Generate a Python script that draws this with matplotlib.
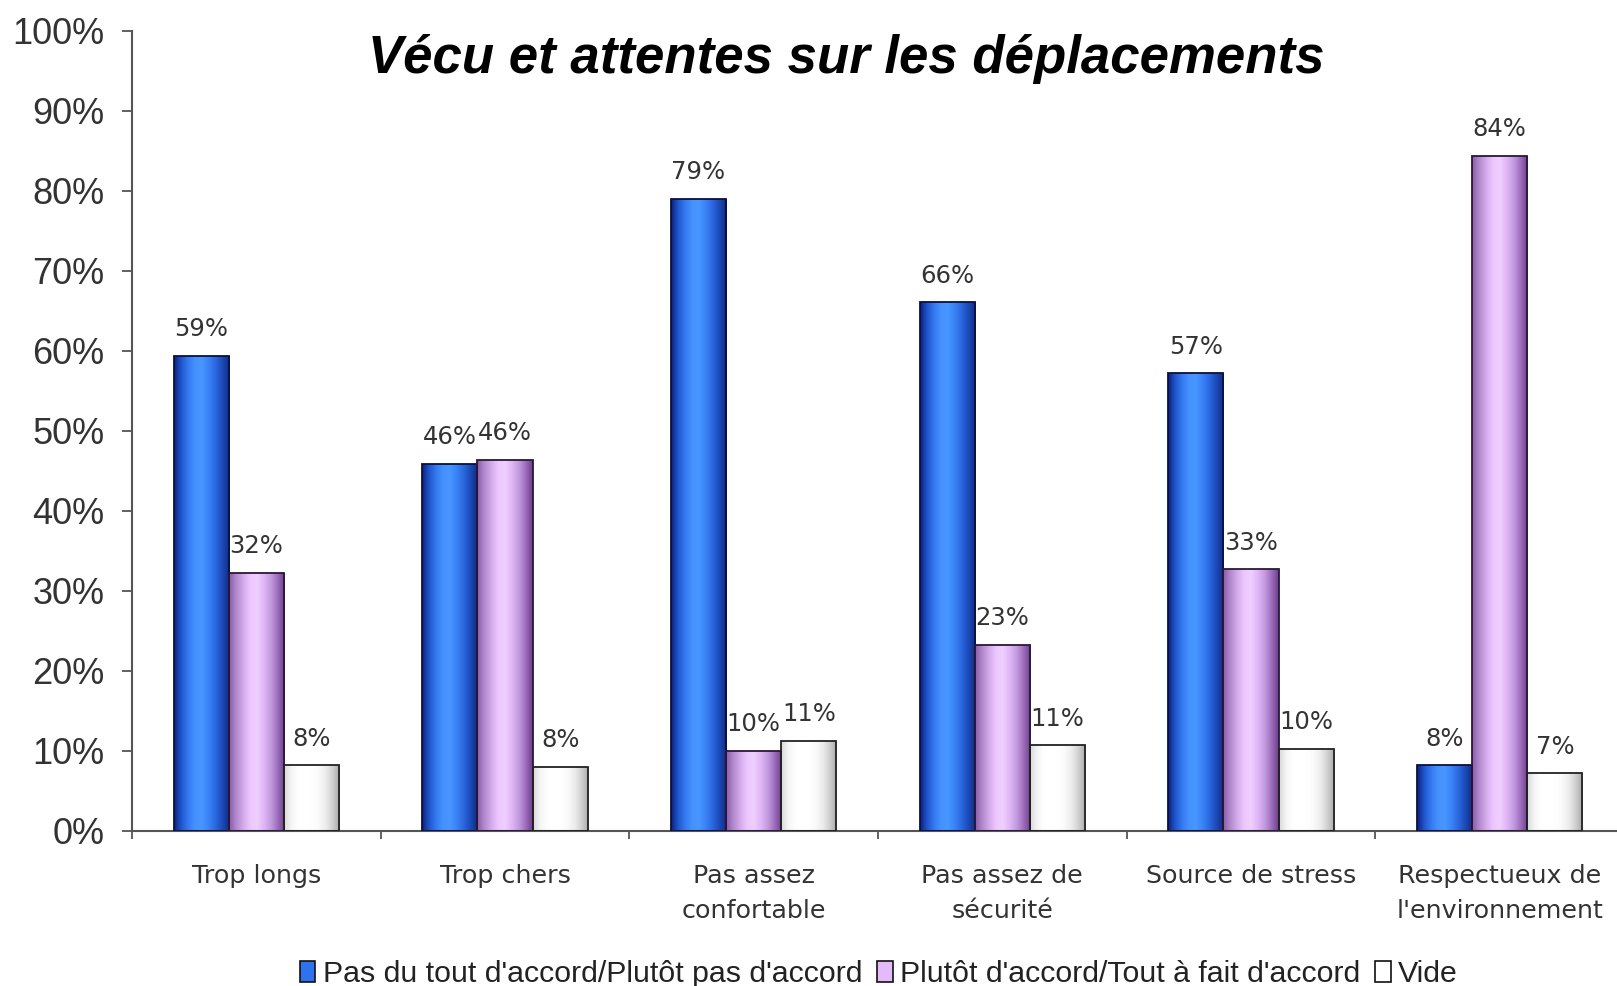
import matplotlib
matplotlib.use("Agg")
import matplotlib.pyplot as plt
import numpy as np
from matplotlib.patches import Patch
from matplotlib.colors import LinearSegmentedColormap

categories = ["Trop longs", "Trop chers", "Pas assez\nconfortable", "Pas assez de\nsécurité",
              "Source de stress", "Respectueux de\nl'environnement"]
disagree = [59.4, 45.9, 79.0, 66.1, 57.2, 8.2]
agree = [32.3, 46.4, 10.0, 23.3, 32.7, 84.4]
empty = [8.2, 8.0, 11.3, 10.7, 10.3, 7.2]
series_names = ["Pas du tout d'accord/Plutôt pas d'accord",
                "Plutôt d'accord/Tout à fait d'accord", "Vide"]
yticks = list(range(0, 101, 10))
title = "Vécu et attentes sur les déplacements"

blue_grad = ["#0c1f78", "#1f55cc", "#3478f0", "#4592ff", "#4896ff", "#3a82f6", "#2a66de", "#1c48b4", "#0f2a80"]
pink_grad = ["#8a5aa8", "#b088cc", "#d2aaea", "#ecc6ff", "#f0cfff", "#e0b6f6", "#c29ade", "#9c6cbc", "#6a3c88"]
white_grad = ["#d8d8d8", "#f4f4f4", "#ffffff", "#ffffff", "#ffffff", "#fafafa", "#ececec", "#cfcfcf", "#a8a8a8"]
edge_colors = ["#0a1040", "#2a1838", "#222222"]
legend_colors = ["#2f72ee", "#e4bafa", "#ffffff"]

fig = plt.figure(figsize=(16.17, 9.86), dpi=100)
ax = fig.add_axes([132 / 1617, 155 / 986, 1492 / 1617, 800 / 986])

x = np.arange(len(categories))
w = 0.222
grad = np.linspace(0, 1, 256).reshape(1, -1)

for i, (vals, gcols) in enumerate(zip([disagree, agree, empty], [blue_grad, pink_grad, white_grad])):
    bars = ax.bar(x + (i - 1) * w, vals, width=w, facecolor="none",
                  edgecolor=edge_colors[i], linewidth=1.3, zorder=3)
    cmap = LinearSegmentedColormap.from_list(f"g{i}", gcols)
    for b, v in zip(bars, vals):
        bx, by, bw, bh = b.get_x(), b.get_y(), b.get_width(), b.get_height()
        im = ax.imshow(grad, cmap=cmap, extent=[bx, bx + bw, by, by + bh],
                       aspect="auto", zorder=2, interpolation="bicubic")
        im.set_clip_path(b)
        ax.annotate(f"{v:.0f}%", xy=(bx + bw / 2, bh), xytext=(0, 10.5),
                    textcoords="offset points", ha="center", va="bottom",
                    fontsize=17.5, color="#333333", family="DejaVu Sans")

ax.set_xlim(-0.5, len(categories) - 0.5)
ax.set_ylim(0, 100)
ax.set_yticks(yticks)
ax.set_yticklabels([f"{t}%" for t in yticks], fontsize=26, color="#333333",
                   family="Liberation Sans")
ax.set_xticks(x)
ax.set_xticklabels(categories, fontsize=18.3, color="#333333", family="DejaVu Sans",
                   linespacing=1.55)
ax.set_xticks(np.arange(-0.5, len(categories), 1.0), minor=True)

for s in ["top", "right"]:
    ax.spines[s].set_visible(False)
for s in ["left", "bottom"]:
    ax.spines[s].set_color("#555555")
    ax.spines[s].set_linewidth(1.5)

ax.tick_params(axis="y", direction="out", length=7, width=1.3, color="#555555", pad=13)
ax.tick_params(axis="x", which="major", length=0, pad=24)
ax.tick_params(axis="x", which="minor", direction="out", length=6, width=1.3, color="#555555")

fig.text(846 / 1617, 1 - 59 / 986, title, ha="center", va="center", fontsize=38,
         family="Liberation Sans", weight="bold", style="italic", color="black")

handles = [Patch(facecolor=c, edgecolor="#111111", linewidth=1.2) for c in legend_colors]
fig.legend(handles, series_names, loc="center", bbox_to_anchor=(879 / 1617, 12 / 986),
           ncol=3, frameon=False, handlelength=0.5, handleheight=0.7, handletextpad=0.25,
           columnspacing=0.5, borderpad=0, prop={"family": "Liberation Sans", "size": 21.8},
           labelcolor="#222222")

fig.savefig("out.png", dpi=100)
